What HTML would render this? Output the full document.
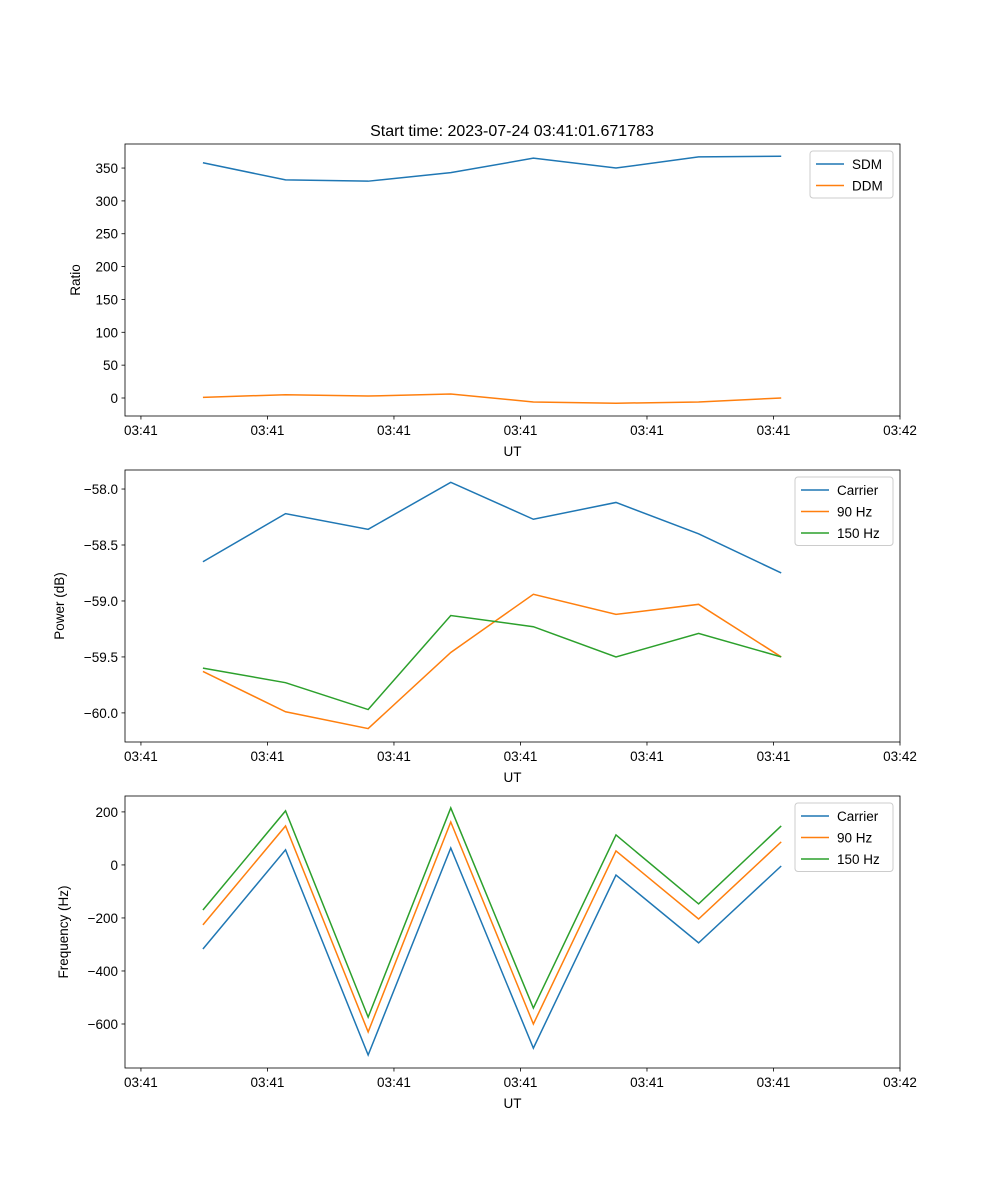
<!DOCTYPE html>
<html><head><meta charset="utf-8"><style>
body{margin:0;background:#fff}
svg{display:block;font-family:"Liberation Sans","DejaVu Sans",sans-serif}
</style></head><body>
<svg id="fig" width="1000" height="1200" viewBox="0 0 1000 1200">
<text x="512" y="136" text-anchor="middle" font-size="16">Start time: 2023-07-24 03:41:01.671783</text>
</svg>
<script>
const xTickLabels=["03:41","03:41","03:41","03:41","03:41","03:41","03:42"];
const xValues=[0.49,1.143,1.796,2.449,3.102,3.755,4.408,5.061];
const sdm=[358,332,330,343,365,350,367,368];
const ddm=[1,5,3,6,-6,-8,-6,0];
const pCarrier=[-58.65,-58.22,-58.36,-57.94,-58.27,-58.12,-58.40,-58.75];
const p90=[-59.63,-59.99,-60.14,-59.46,-58.94,-59.12,-59.03,-59.50];
const p150=[-59.60,-59.73,-59.97,-59.13,-59.23,-59.50,-59.29,-59.50];
const fCarrier=[-317,57,-717,64,-691,-38,-294,-4];
const f90=[-226,147,-630,162,-600,53,-204,87];
const f150=[-170,204,-574,215,-540,113,-147,147];
const ratioTicks=[0,50,100,150,200,250,300,350];
const powerTicks=[-60.0,-59.5,-59.0,-58.5,-58.0];
const freqTicks=[-600,-400,-200,0,200];

const NS="http://www.w3.org/2000/svg";
const svg=document.getElementById('fig');
function mk(tag,attrs,parent){const e=document.createElementNS(NS,tag);for(const k in attrs)e.setAttribute(k,attrs[k]);(parent||svg).appendChild(e);return e;}
const L=125,R=900,xmin=-0.126,xmax=6.0;
const sx=v=>L+(v-xmin)/(xmax-xmin)*(R-L);
const colors=["#1f77b4","#ff7f0e","#2ca02c"];

function panel(name,top,bot,ymin,ymax,yTicks,fmt,yLabel,series,names,legX,legW){
  const g=mk('g',{});
  
  
  const sy=v=>bot-(v-ymin)/(ymax-ymin)*(bot-top);
  series.forEach((s,i)=>{
    const pl=mk('polyline',{points:s.map((v,j)=>sx(xValues[j])+','+sy(v)).join(' '),fill:'none',stroke:colors[i],'stroke-width':1.5},g);
    
    
  });
  const fr=mk('rect',{x:L,y:top,width:R-L,height:bot-top,fill:'none',stroke:'#000','stroke-width':0.8},g);
  
  
  xTickLabels.forEach((t,i)=>{
    const x=sx(i);
    mk('line',{x1:x,x2:x,y1:bot,y2:bot+3.5,stroke:'#000','stroke-width':0.8},g);
    const tx=mk('text',{x:x,y:bot+19,'text-anchor':'middle','font-size':13.5},g);
    tx.textContent=t;
    
    
  });
  yTicks.forEach(v=>{
    const y=sy(v);
    mk('line',{x1:L-3.5,x2:L,y1:y,y2:y,stroke:'#000','stroke-width':0.8},g);
    const tx=mk('text',{x:L-7,y:y+5,'text-anchor':'end','font-size':13.5},g);
    tx.textContent=fmt(v);
    
    
  });
  const xl=mk('text',{x:(L+R)/2,y:bot+40,'text-anchor':'middle','font-size':13.5},g);
  xl.textContent='UT';
  
  
  const yx=yLabel==='Ratio'?80:(yLabel==='Power (dB)'?64:68);
  const yl=mk('text',{x:yx,y:(top+bot)/2,'text-anchor':'middle','font-size':13.5,transform:`rotate(-90 ${yx} ${(top+bot)/2})`},g);
  yl.textContent=yLabel;
  
  
  const lg=mk('g',{},g);
  
  
  const lt=top+7;
  mk('rect',{x:legX,y:lt,width:legW,height:names.length*21.5+4,fill:'#fff',stroke:'#ccc',rx:3},lg);
  names.forEach((n,i)=>{
    const y=lt+13+i*21.5;
    mk('line',{x1:legX+6,x2:legX+34,y1:y,y2:y,stroke:colors[i],'stroke-width':1.5},lg);
    const t=mk('text',{x:legX+42,y:y+5,'font-size':13.5},lg);
    t.textContent=n;
    
    
  });
}
panel('ratio-panel',144,416,-27.4,386.6,ratioTicks,v=>String(v).replace('-','−'),'Ratio',[sdm,ddm],['SDM','DDM'],810,83);
panel('power-panel',470,742,-60.26,-57.83,powerTicks,v=>v.toFixed(1).replace('-','−'),'Power (dB)',[pCarrier,p90,p150],['Carrier','90 Hz','150 Hz'],795,98);
panel('frequency-panel',796,1068,-766,260,freqTicks,v=>String(v).replace('-','−'),'Frequency (Hz)',[fCarrier,f90,f150],['Carrier','90 Hz','150 Hz'],795,98);
</script>
</body></html>
